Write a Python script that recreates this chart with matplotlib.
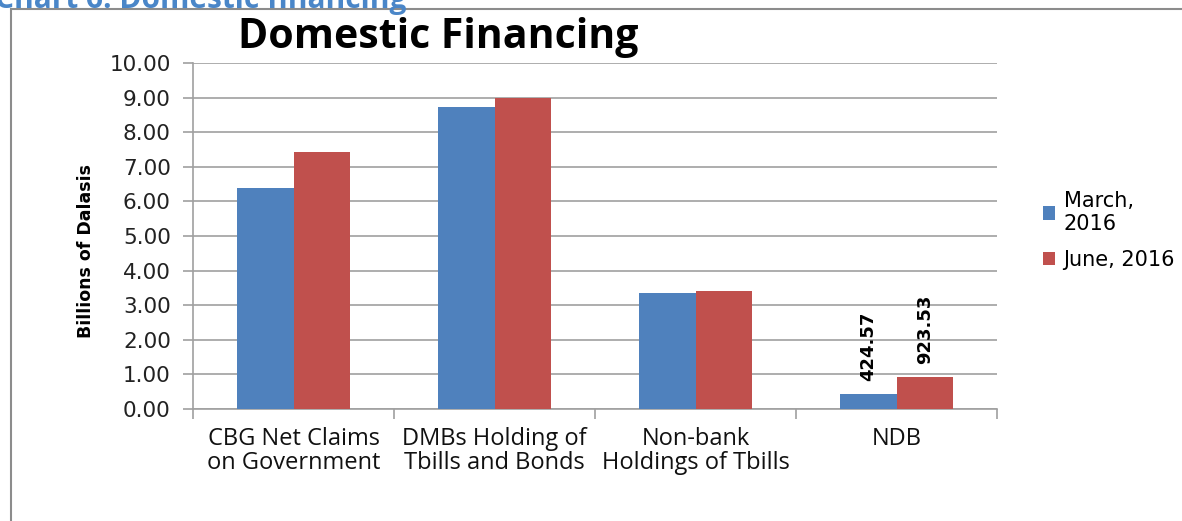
import matplotlib
matplotlib.use("Agg")
import matplotlib.pyplot as plt
import numpy as np

categories = ["CBG Net Claims\non Government", "DMBs Holding of\nTbills and Bonds",
              "Non-bank\nHoldings of Tbills", "NDB"]
march_2016 = [6.38, 8.74, 3.34, 0.42457]
june_2016 = [7.43, 9.00, 3.42, 0.92353]
series_names = ["March,\n2016", "June, 2016"]
ndb_labels = ["424.57", "923.53"]
yticks = [0, 1, 2, 3, 4, 5, 6, 7, 8, 9, 10]

blue = "#4F81BD"
red = "#C0504D"
grey = "#A0A0A0"
base_font = ["Open Sans", "DejaVu Sans"]
wide = ["DejaVu Sans"]
narrow = ["DejaVu Sans"]

fig = plt.figure(figsize=(11.82, 5.21), dpi=100)
fig.patch.set_facecolor("white")

# outer frame
frame = plt.Rectangle((11 / 1182, -0.1), 1.5, 1 - 9 / 521 + 0.1, transform=fig.transFigure,
                      fill=False, edgecolor="#8C8C8C", lw=1.5)
fig.add_artist(frame)
fig.text(-0.004, 1 - 8 / 521, "Chart 6: Domestic financing", color="#4A86C8", fontsize=21.5,
         fontweight="bold", family=base_font, ha="left", va="baseline")

ax = fig.add_axes([193 / 1182, 1 - 409 / 521, 804 / 1182, 346 / 521])
x = np.arange(len(categories))
w = 0.283
b1 = ax.bar(x - w / 2, march_2016, w, color=blue, label=series_names[0], zorder=3)
b2 = ax.bar(x + w / 2, june_2016, w, color=red, label=series_names[1], zorder=3)

ax.set_xlim(-0.5, len(categories) - 0.5)
ax.set_ylim(0, 10)
ax.set_yticks(yticks)
ax.set_yticklabels([f"{v:.2f}" for v in yticks], family=wide, fontsize=15.5, color="#222222")
ax.yaxis.grid(True, color=grey, lw=1.2, zorder=0)
ax.set_axisbelow(True)
ax.tick_params(axis="y", length=7, color=grey, width=1.2, pad=9)

ax.set_xticks(x)
ax.set_xticklabels(categories, family=base_font, fontsize=17, color="#111111", linespacing=1.0)
ax.tick_params(axis="x", length=0, pad=13)
ax.set_xticks(np.arange(-0.5, len(categories)), minor=True)
ax.tick_params(axis="x", which="minor", length=7, color=grey, width=1.2)

for s in ["top", "right"]:
    ax.spines[s].set_visible(False)
for s in ["left", "bottom"]:
    ax.spines[s].set_color(grey)
    ax.spines[s].set_linewidth(1.2)

ax.set_ylabel("Billions of Dalasis", family=narrow, fontweight="bold", fontsize=12.5)
ax.yaxis.set_label_coords(-0.122, 0.457)

# data labels for NDB
ndb_i = 3
for bars, lab in zip([b1, b2], ndb_labels):
    r = bars[ndb_i]
    ax.text(r.get_x() + r.get_width() / 2, r.get_height() + 0.38, lab, rotation=90,
            ha="center", va="bottom", family=narrow, fontweight="bold", fontsize=13)

fig.text(438 / 1182, 1 - 37 / 521, "Domestic Financing", family=base_font, fontweight="bold",
         fontsize=29.5, ha="center", va="center")

leg = fig.legend(handles=[b1, b2], labels=series_names, loc="upper left",
                 bbox_to_anchor=(1024 / 1182, 1 - 172 / 521), frameon=False,
                 prop={"family": wide, "size": 15}, handlelength=0.6, handleheight=0.6,
                 handletextpad=0.4, labelspacing=0.75)

fig.savefig("out.png", dpi=100, facecolor="white")
